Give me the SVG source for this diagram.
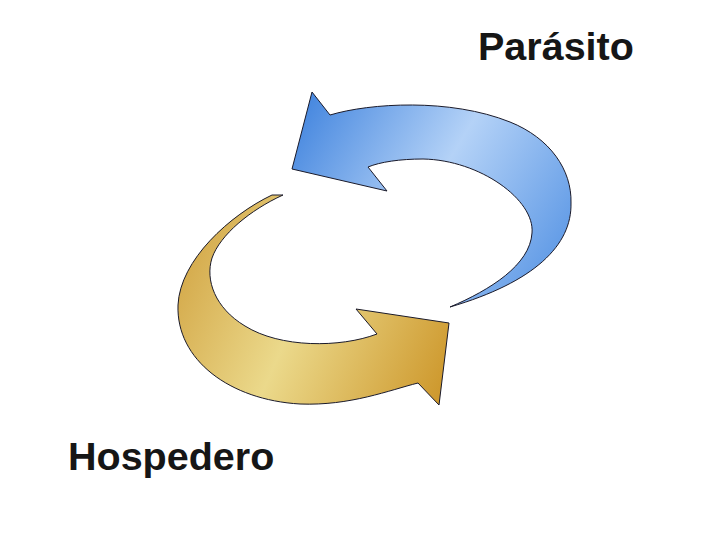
<svg xmlns="http://www.w3.org/2000/svg" width="720" height="540" viewBox="0 0 720 540">
  <style>
    .arrow { stroke: #1a1a2a; stroke-width: 1; stroke-linejoin: miter; }
    .label { font-family: "Liberation Sans", Arial, sans-serif; font-weight: bold; font-size: 39.5px; fill: #161616; }
  </style>
  <defs>
    <linearGradient id="blueGrad" gradientUnits="userSpaceOnUse" x1="295" y1="130" x2="575" y2="300">
      <stop offset="0" stop-color="#4a8ae0"/>
      <stop offset="0.45" stop-color="#b4d2f7"/>
      <stop offset="1" stop-color="#4c8de2"/>
    </linearGradient>
    <linearGradient id="goldGrad" gradientUnits="userSpaceOnUse" x1="180" y1="250" x2="450" y2="370">
      <stop offset="0" stop-color="#d3a747"/>
      <stop offset="0.45" stop-color="#ebd98b"/>
      <stop offset="1" stop-color="#ce992e"/>
    </linearGradient>
  </defs>
  <rect width="720" height="540" fill="#ffffff"/>
  <g id="connectors">
    <path id="arrow-parasito" class="arrow" fill="url(#blueGrad)" d="M 312,92 L 330,115 C 370,103 450,98 510,122 C 550,138 572,170 571,203 C 572,245 535,282 450,307 C 490,290 530,265 532,233 C 535,200 480,160 423,159 C 400,159 380,162 368,167 L 387,191 L 292,169 Z"/>
    <path id="arrow-hospedero" class="arrow" fill="url(#goldGrad)" d="M 283,195 L 272,195 C 230,215 180,260 178,305 C 176,360 230,400 300,404 C 350,406 390,390 418,383 L 439,405 L 449,323 L 356,309 L 377,334 C 340,348 280,348 245,326 C 215,308 205,280 212,258 C 220,235 250,210 283,195 Z"/>
  </g>
  <g id="node-parasito">
    <text class="label" x="478" y="60">Parásito</text>
  </g>
  <g id="node-hospedero">
    <text class="label" x="68" y="470">Hospedero</text>
  </g>
</svg>
